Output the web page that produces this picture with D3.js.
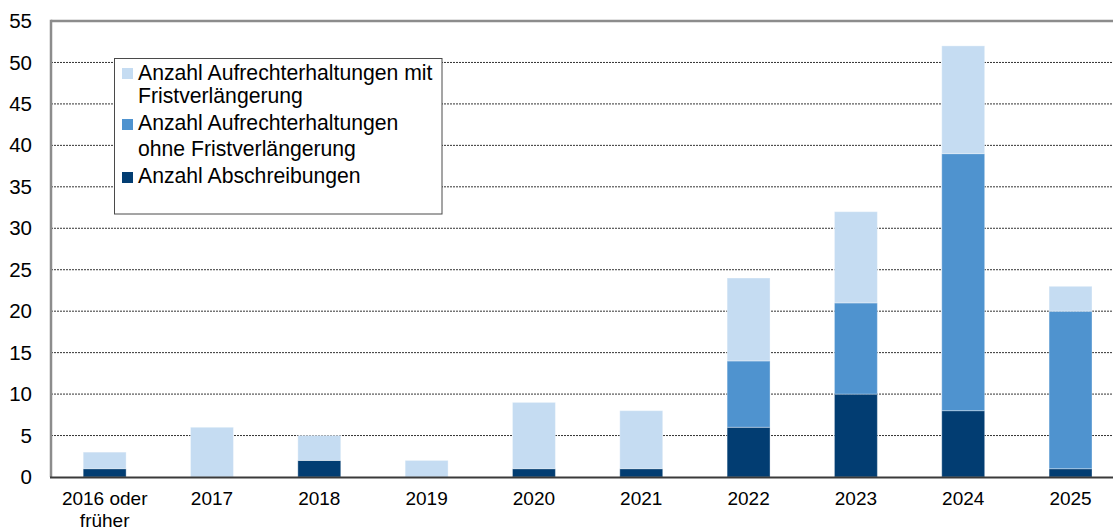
<!DOCTYPE html>
<html><head><meta charset="utf-8">
<script src="https://cdn.jsdelivr.net/npm/d3@7"></script>
<style>
html,body{margin:0;padding:0;background:#fff;}
svg{display:block;font-family:"Liberation Sans",Arial,sans-serif;}
</style></head>
<body>
<svg id="c" width="1113" height="529"></svg>
<script>
const categories = ["2016 oder früher","2017","2018","2019","2020","2021","2022","2023","2024","2025"];
const abschreibungen = [1,0,2,0,1,1,6,10,8,1];
const ohneFrist      = [0,0,0,0,0,0,8,11,31,19];
const mitFrist       = [2,6,3,2,8,7,10,11,13,3];
const yTicks = [0,5,10,15,20,25,30,35,40,45,50,55];
const legendLines = [["Anzahl Aufrechterhaltungen mit","Fristverlängerung"],["Anzahl Aufrechterhaltungen","ohne Fristverlängerung"],["Anzahl Abschreibungen"]];
const colors = {abschreibungen:"#023d72", ohne:"#4f93cf", mit:"#c5dcf2"};

(function(){
const svg = d3.select("#c");
const pLeft = 51, pTop = 21, pBottom = 477, pRight = 1124.2;
const x = d3.scaleBand().domain(categories).range([pLeft, pRight]).paddingInner(0.6).paddingOuter(0.3);
const y = d3.scaleLinear().domain([0,55]).range([pBottom, pTop]);

// gridlines
svg.append("g").selectAll("line").data(yTicks.filter(t=>t>0 && t<55)).join("line")
  .attr("x1", pLeft).attr("x2", 1113).attr("y1", d=>y(d)).attr("y2", d=>y(d))
  .attr("stroke","#333").attr("stroke-width",1).attr("stroke-dasharray","2,1");

// stacked data
const rows = categories.map((c,i)=>({cat:c, abschreibungen:abschreibungen[i], ohne:ohneFrist[i], mit:mitFrist[i]}));
const stack = d3.stack().keys(["abschreibungen","ohne","mit"])(rows);
svg.append("g").selectAll("g").data(stack).join("g").attr("fill", d=>colors[d.key])
  .selectAll("rect").data(d=>d.filter(p=>p[1]-p[0]>0)).join("rect")
  .attr("x", d=>x(d.data.cat)).attr("width", x.bandwidth())
  .attr("y", d=>y(d[1])).attr("height", d=>y(d[0])-y(d[1]))
  .attr("stroke","#ffffff").attr("stroke-opacity",0.35).attr("stroke-width",1);

// frame: top and left grey
svg.append("line").attr("x1",pLeft).attr("x2",1113).attr("y1",pTop).attr("y2",pTop).attr("stroke","#8c8c8c").attr("stroke-width",2.5);
svg.append("line").attr("x1",pLeft).attr("x2",pLeft).attr("y1",pTop-1.2).attr("y2",pBottom).attr("stroke","#8c8c8c").attr("stroke-width",2.5);
// bottom axis line
svg.append("line").attr("x1",pLeft-1).attr("x2",1113).attr("y1",pBottom+0.5).attr("y2",pBottom+0.5).attr("stroke","#3a3a3a").attr("stroke-width",2);

// y axis
const yAxis = svg.append("g").attr("transform",`translate(${pLeft},0)`)
  .call(d3.axisLeft(y).tickValues(yTicks).tickSize(0).tickPadding(19));
yAxis.select(".domain").remove();
yAxis.selectAll("text").attr("font-size",20.5).attr("fill","#000").attr("font-family","Liberation Sans, Arial, sans-serif");

// x axis
const xAxis = svg.append("g").attr("transform",`translate(0,${pBottom})`)
  .call(d3.axisBottom(x).tickSize(0).tickFormat(""));
xAxis.select(".domain").remove();
xAxis.selectAll(".tick").each(function(d){
  const g = d3.select(this);
  const parts = d === "2016 oder früher" ? ["2016 oder","früher"] : [d];
  g.selectAll("text.lbl").data(parts).join("text").attr("class","lbl")
    .attr("x", 0)
    .attr("y", (p,i)=>28 + i*21.5)
    .attr("text-anchor","middle").attr("font-size",19).attr("fill","#000")
    .attr("font-family","Liberation Sans, Arial, sans-serif").text(p=>p);
});

// legend
const lg = svg.append("g");
lg.append("rect").attr("x",114.5).attr("y",58.5).attr("width",327.5).attr("height",155.5)
  .attr("fill","#fff").attr("stroke","#4a4a4a").attr("stroke-width",1);
const keys = ["mit","ohne","abschreibungen"];
const swatchY = [68,119,172];
const baselines = [[79.5,103],[130,156],[183]];
keys.forEach((k,i)=>{
  lg.append("rect").attr("x",122).attr("y",swatchY[i]).attr("width",11).attr("height",11).attr("fill",colors[k]);
  legendLines[i].forEach((t,j)=>{
    lg.append("text").attr("x",138).attr("y",baselines[i][j]).attr("font-size",21.2)
      .attr("fill","#000").attr("font-family","Liberation Sans, Arial, sans-serif").text(t);
  });
});
})();
</script>
</body></html>
